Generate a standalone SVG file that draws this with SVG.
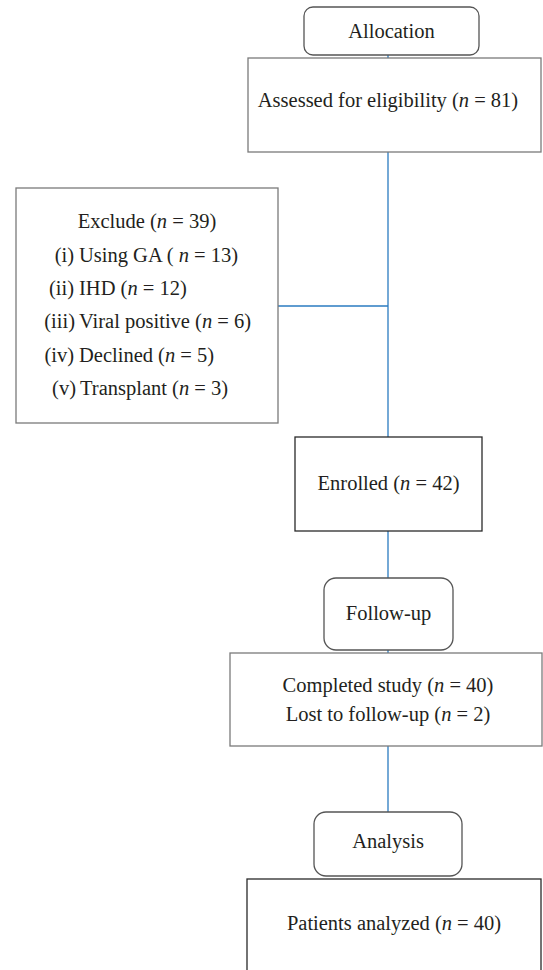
<svg xmlns="http://www.w3.org/2000/svg" width="543" height="970" viewBox="0 0 543 970">
<style>
text{font-family:"Liberation Serif","Times New Roman",serif;font-size:20.5px;fill:#231f20}
.c{text-anchor:middle}
.e{text-anchor:end}
.n{font-style:italic}
.box{fill:#fff;stroke-width:1.3}
.dk{stroke:#2a2a2a}
.gr{stroke:#7a7a7a}
.md{stroke:#555}
.ln{stroke:#2a7bc0;stroke-width:1.3;fill:none}
</style>
<rect width="543" height="970" fill="#fff"/>
<g id="connectors">
<line class="ln" x1="388" y1="55" x2="388" y2="58"/>
<line class="ln" x1="388" y1="152" x2="388" y2="437"/>
<line class="ln" x1="278" y1="306" x2="388" y2="306"/>
<line class="ln" x1="388" y1="531" x2="388" y2="578"/>
<line class="ln" x1="388" y1="650" x2="388" y2="653"/>
<line class="ln" x1="388" y1="746" x2="388" y2="812"/>
</g>
<g id="allocation">
<rect class="box md" x="304" y="7" width="175" height="48" rx="9"/>
<text class="c" x="391.5" y="38">Allocation</text>
</g>
<g id="assessed">
<rect class="box gr" x="248" y="58" width="293" height="94"/>
<text class="c" x="388" y="107">Assessed for eligibility (<tspan class="n">n</tspan> = 81)</text>
</g>
<g id="exclude">
<rect class="box gr" x="16" y="188" width="262" height="235"/>
<text class="c" x="147" y="228">Exclude (<tspan class="n">n</tspan> = 39)</text>
<text class="e" x="74" y="262">(i)</text>
<text x="79" y="262">Using GA ( <tspan class="n">n</tspan> = 13)</text>
<text class="e" x="74" y="295">(ii)</text>
<text x="79" y="295">IHD (<tspan class="n">n</tspan> = 12)</text>
<text class="e" x="75" y="328">(iii)</text>
<text x="79" y="328">Viral positive (<tspan class="n">n</tspan> = 6)</text>
<text class="e" x="74" y="362">(iv)</text>
<text x="79" y="362">Declined (<tspan class="n">n</tspan> = 5)</text>
<text class="e" x="76" y="395">(v)</text>
<text x="80" y="395">Transplant (<tspan class="n">n</tspan> = 3)</text>
</g>
<g id="enrolled">
<rect class="box dk" x="295" y="437" width="187" height="94"/>
<text class="c" x="388.5" y="490">Enrolled (<tspan class="n">n</tspan> = 42)</text>
</g>
<g id="followup">
<rect class="box md" x="324" y="578" width="129" height="72" rx="12"/>
<text class="c" x="388.5" y="620">Follow-up</text>
</g>
<g id="completed">
<rect class="box gr" x="230" y="653" width="312" height="93"/>
<text class="c" x="388" y="692">Completed study (<tspan class="n">n</tspan> = 40)</text>
<text class="c" x="388" y="721">Lost to follow-up (<tspan class="n">n</tspan> = 2)</text>
</g>
<g id="analysis">
<rect class="box md" x="314" y="812" width="148" height="64" rx="12"/>
<text class="c" x="388" y="848">Analysis</text>
</g>
<g id="patients">
<rect class="box dk" x="247" y="879" width="294" height="100"/>
<text class="c" x="394" y="930">Patients analyzed (<tspan class="n">n</tspan> = 40)</text>
</g>
</svg>
